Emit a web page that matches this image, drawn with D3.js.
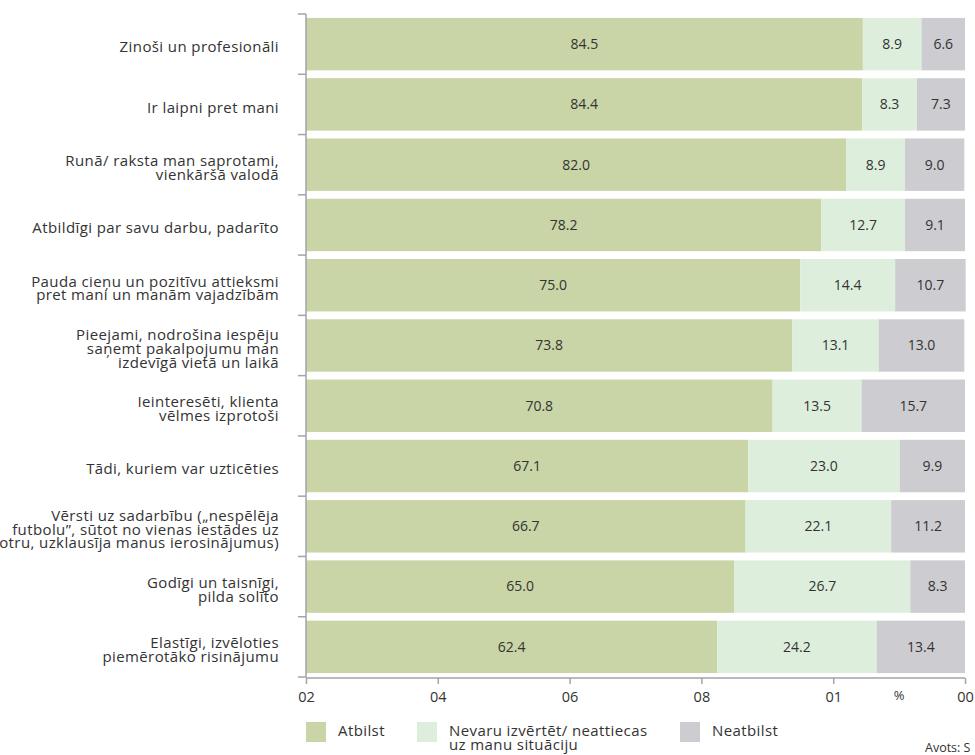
<!DOCTYPE html>
<html>
<head>
<meta charset="utf-8">
<script src="https://cdn.jsdelivr.net/npm/d3@7"></script>
<style>
  body { margin: 0; background: #fff; }
  svg { font-family: "Open Sans", Lato, sans-serif; }
  .axis path, .axis line { stroke: #a3a3a8; stroke-width: 1.5; }
  .cat, .lg text { font-size: 15px; letter-spacing: 0.4px; }
</style>
</head>
<body>
<svg id="chart" width="975" height="755"></svg>
<script>
// categories (each entry is the lines of the label)
var categories = [
  ['Zinoši un profesionāli'],
  ['Ir laipni pret mani'],
  ['Runā/ raksta man saprotami,', 'vienkāršā valodā'],
  ['Atbildīgi par savu darbu, padarīto'],
  ['Pauda cieņu un pozitīvu attieksmi', 'pret mani un manām vajadzībām'],
  ['Pieejami, nodrošina iespēju', 'saņemt pakalpojumu man', 'izdevīgā vietā un laikā'],
  ['Ieinteresēti, klienta', 'vēlmes izprotoši'],
  ['Tādi, kuriem var uzticēties'],
  ['Vērsti uz sadarbību („nespēlēja', 'futbolu”, sūtot no vienas iestādes uz', 'otru, uzklausīja manus ierosinājumus)'],
  ['Godīgi un taisnīgi,', 'pilda solīto'],
  ['Elastīgi, izvēloties', 'piemērotāko risinājumu']
];
var atbilst   = [84.5, 84.4, 82.0, 78.2, 75.0, 73.8, 70.8, 67.1, 66.7, 65.0, 62.4];
var nevaru    = [8.9, 8.3, 8.9, 12.7, 14.4, 13.1, 13.5, 23.0, 22.1, 26.7, 24.2];
var neatbilst = [6.6, 7.3, 9.0, 9.1, 10.7, 13.0, 15.7, 9.9, 11.2, 8.3, 13.4];

var seriesNames = ['Atbilst', 'Nevaru izvērtēt/ neattiecas|uz manu situāciju', 'Neatbilst'];
var colors = ['#c9d4a7', '#deeedd', '#cdccd1'];

// tick labels as printed on the picture
var tickValues = [0, 20, 40, 60, 80, 100];
var tickLabels = ['02', '04', '06', '08', '01', '00'];

var svg = d3.select('#chart'),
    plotLeft = 306, plotRight = 965, plotTop = 14, plotBottom = 677,
    lineH = 13.8;

var x = d3.scaleLinear().domain([0, 100]).range([plotLeft, plotRight]);
var y = d3.scaleBand().domain(d3.range(categories.length)).range([plotTop, plotBottom])
  .paddingInner(0.13).paddingOuter(0.065);

var rows = categories.map(function(c, i) {
  return { i: i, values: [atbilst[i], nevaru[i], neatbilst[i]] };
});
var stack = d3.stack().keys([0, 1, 2]).value(function(d, k) { return d.values[k]; });
var layers = stack(rows);

var g = svg.selectAll('.layer').data(layers).enter()
  .append('g').attr('class', 'layer')
  .attr('fill', function(d, k) { return colors[k]; });

g.selectAll('rect').data(function(d) { return d; }).enter()
  .append('rect')
    .attr('x', function(d) { return x(d[0]); })
    .attr('width', function(d) { return x(d[1]) - x(d[0]); })
    .attr('y', function(d) { return y(d.data.i); })
    .attr('height', y.bandwidth());

g.selectAll('text').data(function(d) { return d; }).enter()
  .append('text')
    .attr('x', function(d) { return (x(d[0]) + x(d[1])) / 2; })
    .attr('y', function(d) { return y(d.data.i) + y.bandwidth() / 2; })
    .attr('dy', '0.35em')
    .attr('text-anchor', 'middle')
    .attr('fill', '#333')
    .style('font-size', '14px')
    .text(function(d) { return (d[1] - d[0]).toFixed(1); });

// y axis with ticks at the band boundaries
var step = y.step();
var yAxis = svg.append('g').attr('class', 'axis');
yAxis.append('line').attr('x1', plotLeft).attr('x2', plotLeft).attr('y1', plotTop).attr('y2', plotBottom);
yAxis.selectAll('.tk').data(d3.range(categories.length + 1)).enter()
  .append('line').attr('class', 'tk')
    .attr('x1', plotLeft - 8).attr('x2', plotLeft)
    .attr('y1', function(d) { return plotTop + d * step; })
    .attr('y2', function(d) { return plotTop + d * step; });

// category labels
svg.selectAll('.cat').data(categories).enter()
  .append('text').attr('class', 'cat')
    .attr('text-anchor', 'end')
    .attr('fill', '#333')
    .attr('transform', function(d, i) {
      var cy = y(i) + y.bandwidth() / 2 + 3 - (d.length - 1) * lineH / 2;
      return 'translate(279,' + cy + ')';
    })
    .selectAll('tspan').data(function(d) { return d; }).enter()
    .append('tspan')
      .attr('x', 0)
      .attr('y', function(d, j) { return j * lineH; })
      .attr('dy', '0.35em')
      .text(function(d) { return d; });

// x axis
var xAxis = svg.append('g').attr('class', 'axis')
  .attr('transform', 'translate(0,' + (plotBottom + 1) + ')')
  .call(d3.axisBottom(x).tickValues(tickValues).tickSize(6).tickPadding(8)
    .tickFormat(function(d, i) { return tickLabels[i]; }));
xAxis.select('.domain').attr('d', 'M' + plotLeft + ',0H' + plotRight);
xAxis.selectAll('text').attr('fill', '#333').style('font-size', '14.5px').style('font-family', '"Open Sans", sans-serif');
svg.append('text').attr('x', x(90)).attr('y', 700).attr('text-anchor', 'middle')
  .attr('fill', '#333').style('font-size', '13px').text('%');

// legend
var legendX = [306, 417, 680];
var lg = svg.selectAll('.lg').data(seriesNames).enter()
  .append('g').attr('class', 'lg')
  .attr('transform', function(d, i) { return 'translate(' + legendX[i] + ',722)'; });
lg.append('rect').attr('width', 20).attr('height', 20).attr('fill', function(d, i) { return colors[i]; });
lg.append('text').attr('fill', '#333')
  .selectAll('tspan').data(function(d) { return d.split('|'); }).enter()
  .append('tspan').attr('x', 32).attr('y', function(d, j) { return 14 + j * lineH; })
  .text(function(d) { return d; });

svg.append('text').attr('x', 925).attr('y', 752).attr('fill', '#333')
  .style('font-size', '12.5px').text('Avots: S');
</script>
</body>
</html>
